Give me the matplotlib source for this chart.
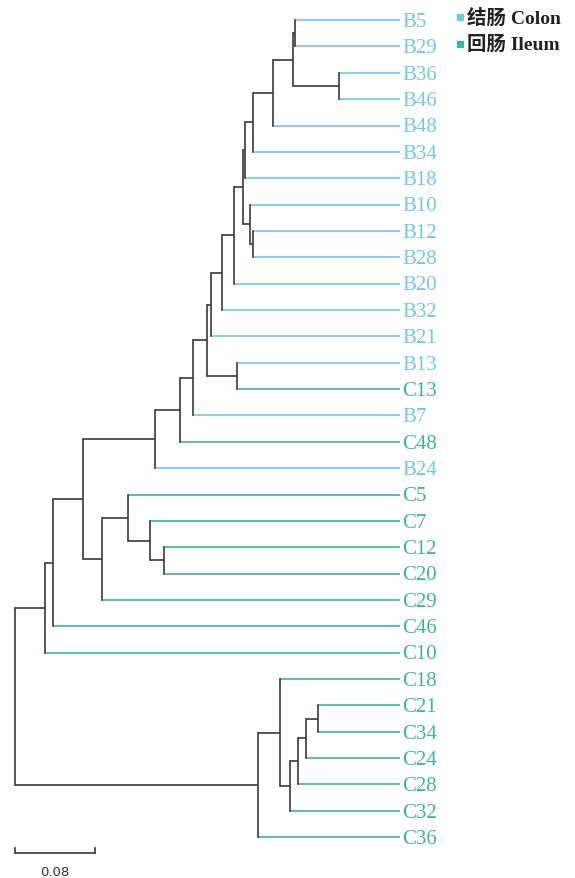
import matplotlib
matplotlib.use("Agg")
import matplotlib.pyplot as plt

# ---- data ----
leaves = ["B5", "B29", "B36", "B46", "B48", "B34", "B18", "B10", "B12", "B28",
          "B20", "B32", "B21", "B13", "C13", "B7", "C48", "B24", "C5", "C7",
          "C12", "C20", "C29", "C46", "C10", "C18", "C21", "C34", "C24", "C28",
          "C32", "C36"]
leaf_depth = 0.385
# internal nodes: name, child1, child2, distance from root
node_names = ["n1", "n2", "n3", "n4", "n5", "n6", "n7", "n8", "n9", "n10",
              "n11", "n12", "n13", "n14", "n15", "n16", "n17", "n18", "n19", "n20",
              "n21", "n22", "n23", "n24", "n25", "n26", "n27", "n28", "n29", "n30", "root"]
node_child1 = ["B5", "B36", "n1", "n3", "n4", "n5", "B12", "B10", "n6", "n9",
               "n10", "n11", "B13", "n12", "n14", "n15", "n16", "C12", "C7", "C5",
               "n20", "n17", "n22", "n23", "C21", "n25", "n26", "n27", "C18", "n29", "n24"]
node_child2 = ["B29", "B46", "n2", "B48", "B34", "B18", "B28", "n7", "n8", "B20",
               "B32", "B21", "C13", "n13", "B7", "C48", "B24", "C20", "n18", "n19",
               "C29", "n21", "C46", "C10", "C34", "C24", "C28", "C32", "n28", "C36", "n30"]
node_depth = [0.280, 0.324, 0.278, 0.258, 0.238, 0.230, 0.238, 0.235, 0.228, 0.219,
              0.207, 0.196, 0.222, 0.192, 0.178, 0.165, 0.140, 0.149, 0.135, 0.113,
              0.087, 0.068, 0.038, 0.030, 0.303, 0.291, 0.283, 0.275, 0.265, 0.243, 0.0]
group_labels = ["结肠 Colon", "回肠 Ileum"]
scale_value = 0.08

# ---- style ----
col_B = "#72c8e2"
col_C = "#3fb39b"
col_int = "#3a3a3a"
serif = ["Liberation Serif", "Noto Sans CJK SC"]

fig = plt.figure(figsize=(5.75, 8.79), dpi=100)
ax = fig.add_axes([0, 0, 1, 1])
ax.set_xlim(-0.015, 0.560)
ax.set_ylim(32.55, -0.80)
ax.axis("off")

pos = {}
for i, name in enumerate(leaves):
    pos[name] = (leaf_depth, float(i))
for name, c1, c2, d in zip(node_names, node_child1, node_child2, node_depth):
    pos[name] = (d, (pos[c1][1] + pos[c2][1]) / 2)

def leaf_color(n):
    return col_B if n.startswith("B") else col_C

lw = 1.2
for name, c1, c2, d in zip(node_names, node_child1, node_child2, node_depth):
    ax.plot([d, d], [pos[c1][1], pos[c2][1]], color=col_int, lw=lw,
            solid_capstyle="projecting", zorder=2)
    for c in (c1, c2):
        cx, cy = pos[c]
        color = leaf_color(c) if c in leaves else col_int
        ax.plot([d, cx], [cy, cy], color=color, lw=lw, zorder=1 if c in leaves else 2,
                solid_capstyle="butt")

for i, name in enumerate(leaves):
    ax.text(leaf_depth + 0.002, i + 0.05, name, color=leaf_color(name), fontsize=15,
            family=serif, va="center", ha="left")

# legend
for k, (lab, col) in enumerate(zip(group_labels, [col_B, col_C])):
    yk = k * 1.0 - 0.1
    ax.plot([0.445], [yk], marker="s", ms=4.5, color=col, mec=col, ls="none")
    ax.text(0.452, yk, lab, fontsize=14, family=serif, fontweight="bold",
            color="#222222", va="center", ha="left")

# scale bar
ysb = 31.6
ax.plot([0, scale_value], [ysb, ysb], color=col_int, lw=1.2)
ax.plot([0, 0], [ysb, ysb - 0.2], color=col_int, lw=1.2)
ax.plot([scale_value, scale_value], [ysb, ysb - 0.2], color=col_int, lw=1.2)
ax.text(scale_value / 2, 32.3, f"{scale_value:.2f}", fontsize=9.5, ha="center",
        va="center", color="#333333", family="DejaVu Sans")

fig.savefig("out.png", dpi=100)
